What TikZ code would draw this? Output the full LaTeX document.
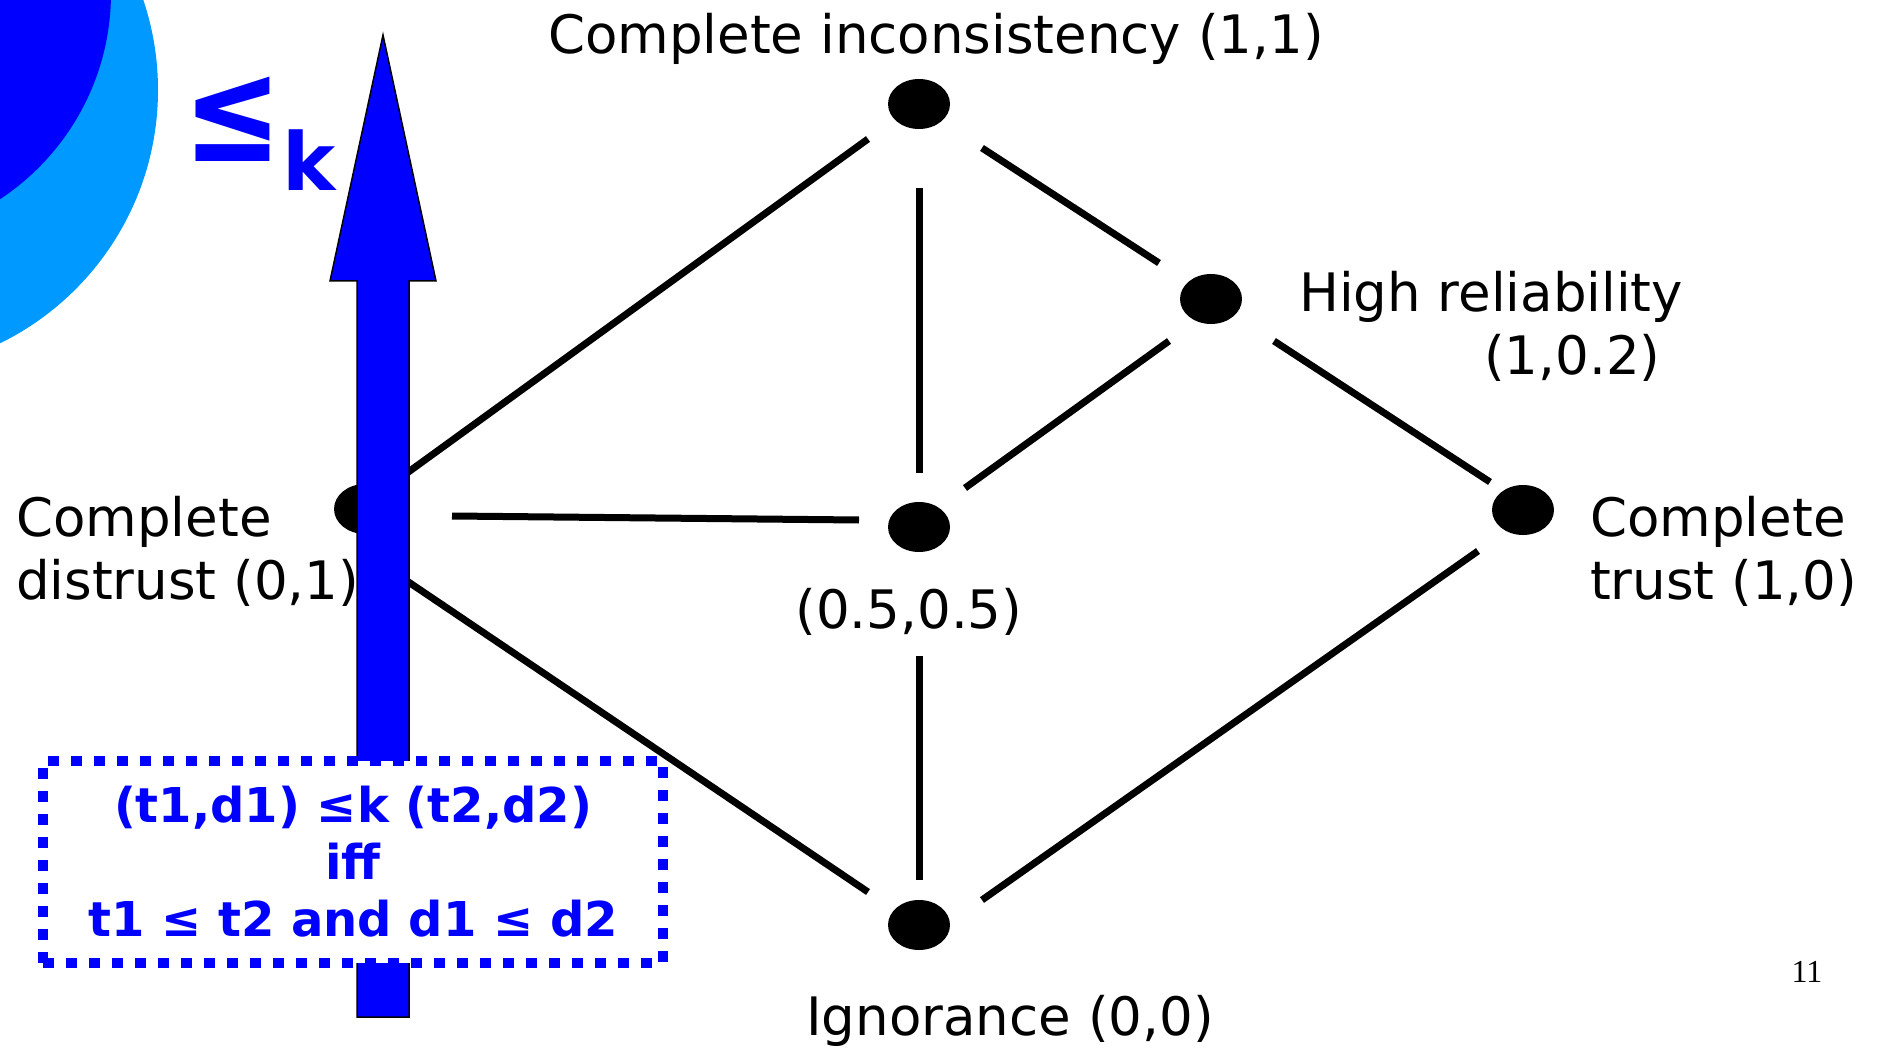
\documentclass[tikz,border=0pt]{standalone}
\usepackage{fontspec}
\setmainfont{DejaVu Sans}
\newfontfamily\pagefont{Liberation Serif}
\usetikzlibrary{shapes.geometric,calc}
\definecolor{slideblue}{RGB}{0,0,255}
\definecolor{skyblue}{RGB}{0,153,255}

\begin{document}
\begin{tikzpicture}[x=1pt,y=-1pt,
    dot/.style={ellipse,fill=black,minimum width=62,minimum height=50,inner sep=0},
    lbl/.style={font=\fontsize{53}{63}\selectfont,inner sep=0,align=left},
    edge/.style={line width=7}]
  \useasboundingbox (0,0) rectangle (1877,1048);
  % slide corner
  \fill[skyblue] (-124,90) circle[radius=282];
  \fill[slideblue] (-136,-7) circle[radius=247];
  % lattice points
  \foreach \n/\x/\y in {CI/919/104,HR/1211/299,CD/365/509,MID/919/527,CT/1523/510,IG/919/925}
    \node[dot] (\n) at (\x,\y) {};
  \foreach \a/\ax/\ay/\b/\bx/\by in {CI/-51/35/CD/42/-36,CI/0/84/MID/0/-54,CI/63/44/HR/-52/-36,
      HR/-42/42/MID/46/-39,HR/63/42/CT/-33/-28,CD/87/7/MID/-60/-7,CD/42/72/IG/-51/-33,
      MID/0/129/IG/0/-45,CT/-45/41/IG/63/-25}
    \draw[edge] ($(\a.center)+(\ax,\ay)$) -- ($(\b.center)+(\bx,\by)$);
  \node[lbl,anchor=base] (ciLbl) at (936,54) {Complete inconsistency (1,1)};
  \node[lbl,anchor=base west] (hrLbl) at (1299,375) {High reliability\\\hspace*{185pt}(1,0.2)};
  \node[lbl,anchor=base west] (cdLbl) at (16,599) {Complete\\distrust (0,1)};
  \node[lbl,anchor=base] (midLbl) at (909,628) {(0.5,0.5)};
  \node[lbl,anchor=base west] (ctLbl) at (1590,599) {Complete\\trust (1,0)};
  \node[lbl,anchor=base] (igLbl) at (1010,1035) {Ignorance (0,0)};
  % knowledge order arrow
  \draw[fill=slideblue,line width=1.5] (357,1017) -- (357,281) -- (330,281) -- (383,35)
    -- (436,281) -- (409,281) -- (409,1017) -- cycle;
  \node[draw=slideblue,fill=white,line width=10,dash pattern=on 11pt off 12pt,
    minimum width=620,minimum height=202,text=slideblue,align=center,
    font=\bfseries\fontsize{48}{57}\selectfont] (rule) at (353,862)
    {(t1,d1) ≤k (t2,d2)\\iff\\t1 ≤ t2 and d1 ≤ d2};
  \node[anchor=base west,text=slideblue,font=\bfseries,inner sep=0] (order) at (183,191)
    {{\fontsize{118}{118}\selectfont\raisebox{29pt}{\scalebox{1}[1.23]{≤}}}{\fontsize{80}{80}\selectfont k}};
  \node[font=\pagefont\fontsize{32}{32}\selectfont] (page) at (1807,972) {11};
\end{tikzpicture}
\end{document}
